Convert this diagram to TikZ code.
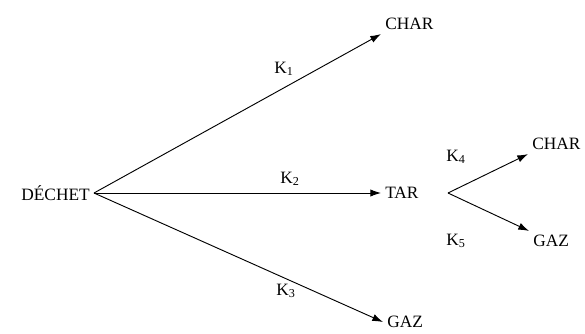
\documentclass[tikz,border=0pt]{standalone}
\usepackage{fontspec}
\setmainfont{Liberation Serif}
\usepackage{tikz}
\usetikzlibrary{arrows.meta, positioning}

\begin{document}
\begin{tikzpicture}[x=0.75pt, y=-0.75pt,
		specie/.style={inner sep=3pt, font=\fontsize{13}{15}\selectfont},
		costante/.style={inner sep=1pt, font=\fontsize{13}{15}\selectfont},
		freccia/.style={line width=0.7pt, -{Latex[length=8pt, width=5.5pt]}}]
			
			\useasboundingbox (0,0) rectangle (585,333);
			
			% Reagente a sinistra
			\node[specie, anchor=east] (dechet) at (94,193) {D\'ECHET};
			
			% Prodotti primari
			\node[specie, anchor=west] (char1) at (381,24) {CHAR};
			\node[specie, anchor=west] (tar) at (381,193) {TAR};
			\node[specie, anchor=west] (gaz1) at (383,322) {GAZ};
			
			% Prodotti secondari del tar
			\coordinate (bivio) at (448,193);
			\node[specie, anchor=west] (char2) at (528,144) {CHAR};
			\node[specie, anchor=west] (gaz2) at (529,241) {GAZ};
			
			% Reazioni primarie
			\draw[freccia] (dechet.east) -- (char1.south west);
			\draw[freccia] (dechet.east) -- (tar.west);
			\draw[freccia] (dechet.east) -- (gaz1.west);
			
			% Reazioni secondarie
			\draw[freccia] (bivio) -- (char2.south west);
			\draw[freccia] (bivio) -- (gaz2.north west);
			
			% Costanti cinetiche
			\node[costante] (k1) at (284,69) {K\textsubscript{1}};
			\node[costante] (k2) at (290,179) {K\textsubscript{2}};
			\node[costante] (k3) at (286,291) {K\textsubscript{3}};
			\node[costante] (k4) at (456,157) {K\textsubscript{4}};
			\node[costante] (k5) at (456,241) {K\textsubscript{5}};
			
		\end{tikzpicture}
\end{document}
